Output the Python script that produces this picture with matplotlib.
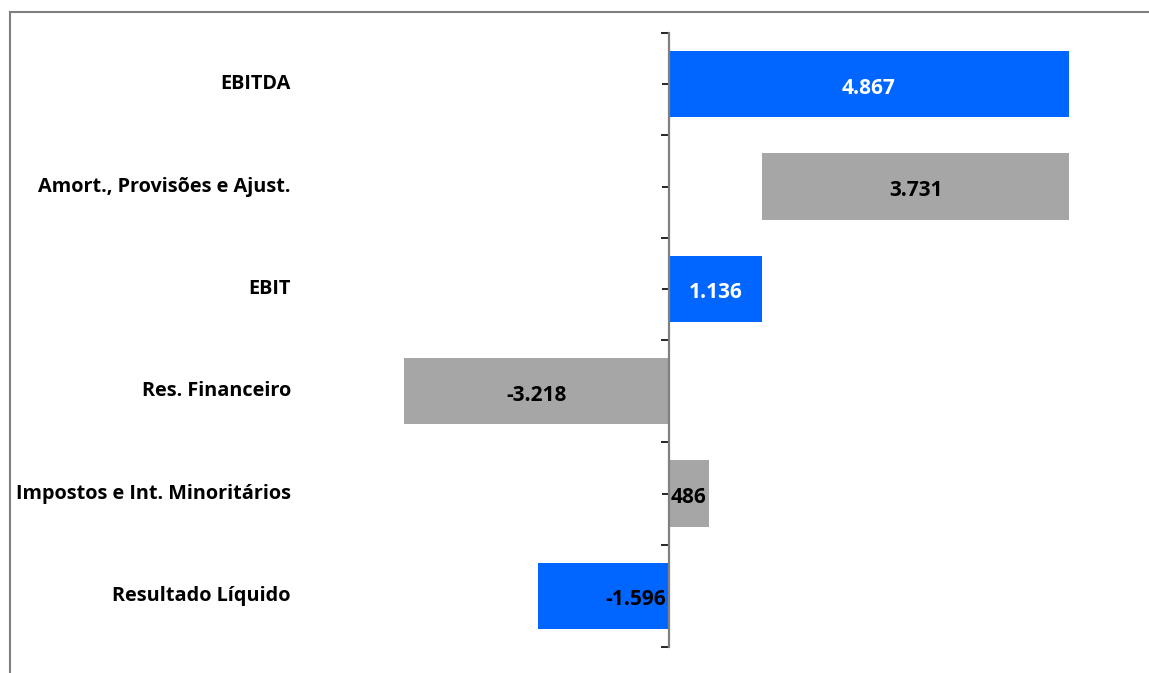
import matplotlib
matplotlib.use("Agg")
import matplotlib.pyplot as plt
import matplotlib.transforms as mtransforms
from matplotlib.lines import Line2D

plt.rcParams["font.family"] = ["Open Sans", "DejaVu Sans"]

categories = ["EBITDA", "Amort., Provisões e Ajust.", "EBIT", "Res. Financeiro",
              "Impostos e Int. Minoritários", "Resultado Líquido"]
bar_start = [0, 1136, 0, 0, 0, 0]
bar_end = [4867, 4867, 1136, -3218, 486, -1596]
value_labels = ["4.867", "3.731", "1.136", "-3.218", "486", "-1.596"]
is_total = [True, False, True, False, False, True]

BLUE = "#0066FF"
GRAY = "#A6A6A6"

W, H = 1149, 673
fig = plt.figure(figsize=(W / 100, H / 100), dpi=100)
ax = fig.add_axes([340 / W, 1 - 647 / H, 740 / W, 614 / H])

ys = list(range(len(categories)))
lefts = [min(s, e) for s, e in zip(bar_start, bar_end)]
widths = [abs(e - s) for s, e in zip(bar_start, bar_end)]
colors = [BLUE if t else GRAY for t in is_total]
ax.barh(ys, widths, left=lefts, height=0.65, color=colors, zorder=2)

ax.set_xlim(-4000, 5000)
ax.set_ylim(len(categories) - 0.5, -0.5)

FS_CAT = 14.3
FS_VAL = 15

# value labels
for i, (l, w, txt) in enumerate(zip(lefts, widths, value_labels)):
    col = "white" if is_total[i] and bar_end[i] > 0 else "black"
    if i == len(categories) - 1:
        ax.text(-30, i + 0.04, txt, ha="right", va="center", fontsize=FS_VAL,
                fontweight="bold", color=col, zorder=3)
    else:
        ax.text(l + w / 2, i + 0.04, txt, ha="center", va="center", fontsize=FS_VAL,
                fontweight="bold", color=col, zorder=3)

# category labels, right aligned left of the chart
trans = mtransforms.blended_transform_factory(fig.transFigure, ax.transData)
for i, name in enumerate(categories):
    ax.text(291 / W, i, name, transform=trans, ha="right", va="center",
            fontsize=FS_CAT, fontweight="bold", color="black")

# axis at zero
for s in ["top", "right", "bottom"]:
    ax.spines[s].set_visible(False)
ax.spines["left"].set_position(("data", 0))
ax.spines["left"].set_color("#808080")
ax.spines["left"].set_linewidth(1.6)
ax.spines["left"].set_zorder(4)
ax.set_xticks([])
ax.set_yticks([y - 0.5 for y in range(len(categories) + 1)])
ax.set_yticks(ys, minor=True)
ax.tick_params(axis="y", which="both", labelleft=False, direction="out",
               color="black", width=1.2)
ax.tick_params(axis="y", which="major", length=6)
ax.tick_params(axis="y", which="minor", length=5)

# chart area border (cropped)
fig.add_artist(Line2D([10 / W, 10 / W], [0, 1 - 12 / H], transform=fig.transFigure,
                      color="#7f7f7f", linewidth=1.5))
fig.add_artist(Line2D([10 / W, 1], [1 - 12 / H, 1 - 12 / H], transform=fig.transFigure,
                      color="#7f7f7f", linewidth=1.5))

fig.savefig("out.png", dpi=100)
